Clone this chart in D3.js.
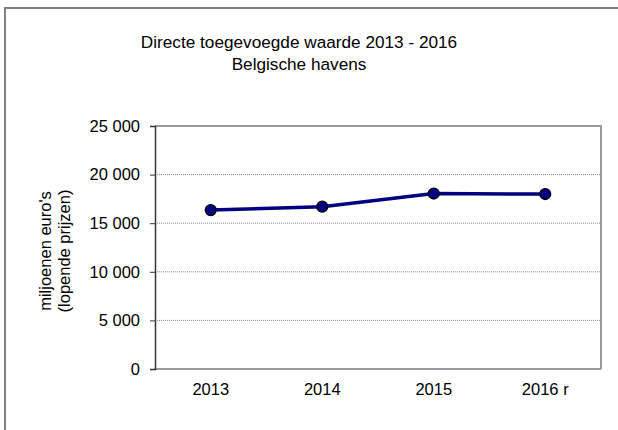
<!DOCTYPE html>
<html>
<head>
<meta charset="utf-8">
<script src="https://cdn.jsdelivr.net/npm/d3@7"></script>
<style>
  body { margin: 0; background: #fff; }
  svg { display: block; font-family: "Liberation Sans", Arial, sans-serif; }
</style>
</head>
<body>
<div id="chart"></div>
<script>
const width = 618;
const height = 430;

const years = ["2013", "2014", "2015", "2016 r"];
const values = [16350, 16700, 18050, 18000];
const yTicks = [0, 5000, 10000, 15000, 20000, 25000];

const margin = { top: 126, right: 17, bottom: 61, left: 155 };

const svg = d3.select("#chart")
  .append("svg")
  .attr("width", width)
  .attr("height", height);

// outer chart frame (cut off at right and bottom)
svg.append("path")
  .attr("d", "M5,440 L5,8 L630,8")
  .attr("fill", "none")
  .attr("stroke", "#808080")
  .attr("stroke-width", 2);

const x = d3.scaleBand()
  .domain(years)
  .range([margin.left, width - margin.right]);

const y = d3.scaleLinear()
  .domain([0, 25000])
  .range([height - margin.bottom, margin.top]);

const fmt = function(v) {
  return d3.format(",")(v).replace(",", " ");
};

// gridlines
svg.append("g")
  .selectAll("line")
  .data(yTicks.filter(function(d) { return d > 0 && d < 25000; }))
  .enter()
  .append("line")
  .attr("x1", margin.left)
  .attr("x2", width - margin.right)
  .attr("y1", function(d) { return y(d); })
  .attr("y2", function(d) { return y(d); })
  .attr("stroke", "#8c8c8c")
  .attr("stroke-width", 1)
  .attr("stroke-dasharray", "1,1");

// plot frame: top and right
svg.append("path")
  .attr("d", "M" + margin.left + "," + y(25000) + " H" + (width - margin.right) + " V" + y(0))
  .attr("fill", "none")
  .attr("stroke", "#999")
  .attr("stroke-width", 2);

// x axis line
svg.append("line")
  .attr("x1", margin.left)
  .attr("x2", width - margin.right)
  .attr("y1", y(0))
  .attr("y2", y(0))
  .attr("stroke", "#999")
  .attr("stroke-width", 2);

// y axis
const yAxis = svg.append("g")
  .attr("transform", "translate(" + margin.left + ",0)")
  .call(d3.axisLeft(y).tickValues(yTicks).tickFormat(fmt).tickSize(5).tickPadding(10));
yAxis.select(".domain").attr("stroke", "#333").attr("stroke-width", 1.5);
yAxis.selectAll(".tick line").attr("stroke", "#333");
yAxis.selectAll("text").style("font-size", "16.5px").attr("fill", "#000");

// x labels
svg.append("g")
  .selectAll("text")
  .data(years)
  .enter()
  .append("text")
  .attr("x", function(d) { return x(d) + x.bandwidth() / 2; })
  .attr("y", 395)
  .attr("text-anchor", "middle")
  .style("font-size", "16.5px")
  .text(function(d) { return d; });

// line
const line = d3.line()
  .x(function(d, i) { return x(years[i]) + x.bandwidth() / 2; })
  .y(function(d) { return y(d); });

svg.append("path")
  .datum(values)
  .attr("d", line)
  .attr("fill", "none")
  .attr("stroke", "#000080")
  .attr("stroke-width", 3.5);

svg.append("g")
  .selectAll("circle")
  .data(values)
  .enter()
  .append("circle")
  .attr("cx", function(d, i) { return x(years[i]) + x.bandwidth() / 2; })
  .attr("cy", function(d) { return y(d); })
  .attr("r", 5.5)
  .attr("fill", "#000080")
  .attr("stroke", "#000")
  .attr("stroke-width", 1.2);

// title
const title = svg.append("text")
  .attr("text-anchor", "middle")
  .style("font-size", "17.2px");
title.append("tspan").attr("x", 299).attr("y", 48).text("Directe toegevoegde waarde 2013 - 2016");
title.append("tspan").attr("x", 299).attr("y", 70).text("Belgische havens");

// y axis title
const yt = svg.append("text")
  .attr("transform", "translate(53,251) rotate(-90)")
  .attr("text-anchor", "middle")
  .style("font-size", "16.5px");
yt.append("tspan").attr("x", 0).attr("y", -2).text("miljoenen euro's");
yt.append("tspan").attr("x", 0).attr("y", 17).text("(lopende prijzen)");
</script>
</body>
</html>
